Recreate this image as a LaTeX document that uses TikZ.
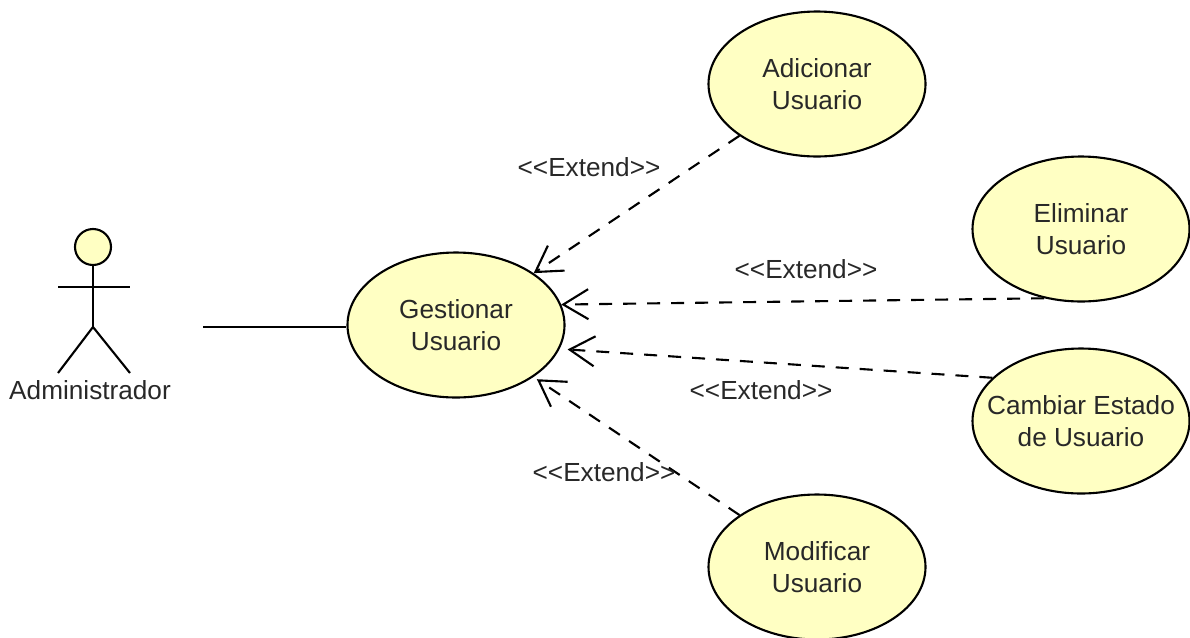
\documentclass[tikz,border=0pt]{standalone}
\usepackage{xcolor}
\usepackage{fontspec}
\setmainfont{Liberation Sans}
\usetikzlibrary{shapes.geometric,arrows.meta}
\definecolor{ucfill}{RGB}{255,255,195}
\definecolor{uctext}{RGB}{40,40,40}
\tikzset{
    usecase/.style={draw,ellipse,fill=ucfill,line width=0.6pt,minimum width=2.17cm,minimum height=1.45cm,inner sep=0pt,align=center,text=uctext,font=\fontsize{7.45}{9.1}\selectfont},
    steretipo/.style={text=uctext,inner sep=0pt,font=\fontsize{7.45}{9.1}\selectfont},
    extendline/.style={line width=0.6pt,dash pattern=on 1.3mm off 1.1mm,-{Straight Barb[length=2.5mm,width=3mm,line width=0.6pt]}},
    actorline/.style={line width=0.6pt}
}
\begin{document}
\begin{tikzpicture}
    \useasboundingbox (0,0) rectangle (11.9,6.37);
    % actor
    \node[draw,circle,fill=ucfill,line width=0.6pt,minimum size=0.36cm,inner sep=0pt] (cabeza) at (0.93,3.90) {};
    \coordinate (cadera) at (0.93,3.10);
    \coordinate (brazoi) at (0.58,3.50);
    \coordinate (brazod) at (1.30,3.50);
    \coordinate (piernai) at (0.58,2.64);
    \coordinate (piernad) at (1.30,2.64);
    \draw[actorline] (cabeza) -- (cadera);
    \draw[actorline] (brazoi) -- (brazod);
    \draw[actorline] (piernai) -- (cadera) -- (piernad);
    \node[steretipo] (administrador) at (0.90,2.47) {Administrador};
    % casos de uso
    \node[usecase] (gestionar) at (4.56,3.12) {Gestionar\\Usuario};
    \node[usecase] (adicionar) at (8.17,5.53) {Adicionar\\Usuario};
    \node[usecase] (eliminar) at (10.81,4.08) {Eliminar\\Usuario};
    \node[usecase,inner xsep=-0.2cm] (cambiar) at (10.81,2.16) {Cambiar Estado\\de Usuario};
    \node[usecase] (modificar) at (8.17,0.70) {Modificar\\Usuario};
    % asociacion
    \coordinate (libre) at (2.03,3.10);
    \draw[actorline] (libre) -- (gestionar.west |- libre);
    % extend
    \draw[extendline] (adicionar) -- (gestionar);
    \draw[extendline] (eliminar.242) -- (gestionar.11);
    \draw[extendline,shorten >=0.8mm] (cambiar.154) -- (gestionar.-13);
    \draw[extendline,shorten >=0.4mm] (modificar) -- (gestionar);
    \node[steretipo] (extend1) at (5.89,4.70) {<{}<Extend>{}>};
    \node[steretipo] (extend2) at (8.06,3.68) {<{}<Extend>{}>};
    \node[steretipo] (extend3) at (7.61,2.47) {<{}<Extend>{}>};
    \node[steretipo] (extend4) at (6.04,1.65) {<{}<Extend>{}>};
\end{tikzpicture}
\end{document}
